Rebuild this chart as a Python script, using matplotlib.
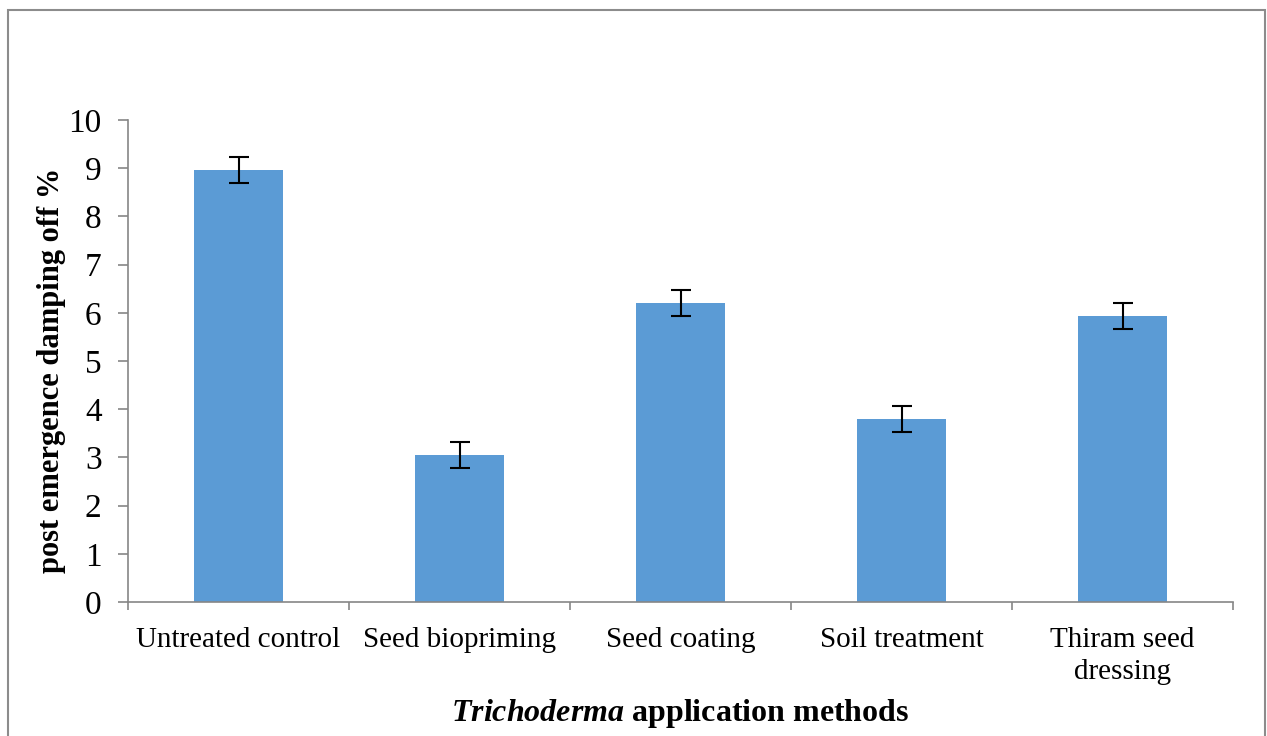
import matplotlib
matplotlib.use("Agg")
import matplotlib.pyplot as plt
from matplotlib.patches import Rectangle

categories = ["Untreated control", "Seed biopriming", "Seed coating", "Soil treatment", "Thiram seed\ndressing"]
values = [8.96, 3.05, 6.20, 3.79, 5.94]
errors = [0.27, 0.27, 0.27, 0.27, 0.27]
yticks = list(range(0, 11))

plt.rcParams['font.family'] = ['Liberation Serif', 'DejaVu Serif']
plt.rcParams['mathtext.fontset'] = 'custom'
plt.rcParams['mathtext.it'] = 'Liberation Serif:italic:bold'
plt.rcParams['mathtext.rm'] = 'Liberation Serif:bold'

W, H = 1267, 736
fig = plt.figure(figsize=(W / 100, H / 100), dpi=100)
ax = fig.add_axes([128 / W, 1 - 602 / H, (1233 - 128) / W, (602 - 120) / H])

x = list(range(len(categories)))
ax.bar(x, values, width=0.4, color="#5B9BD5", zorder=2)
ax.errorbar(x, values, yerr=errors, fmt="none", ecolor="black", elinewidth=1.5,
            capsize=7, capthick=1.5, zorder=3)

ax.set_xlim(-0.5, len(categories) - 0.5)
ax.set_ylim(0, 10)
ax.set_yticks(yticks)
ax.set_yticklabels([str(t) for t in yticks], fontsize=24)

ax.set_xticks(x)
ax.set_xticklabels(categories, fontsize=21, linespacing=1.3)
ax.tick_params(axis="x", length=0, pad=18)
ax.set_xticks([i - 0.5 for i in range(len(categories) + 1)], minor=True)
ax.tick_params(axis="x", which="minor", length=6, color="#868686", width=1.2)
ax.tick_params(axis="y", length=7, color="#868686", width=1.2, pad=12)

for s in ["top", "right"]:
    ax.spines[s].set_visible(False)
for s in ["left", "bottom"]:
    ax.spines[s].set_color("#868686")
    ax.spines[s].set_linewidth(1.2)

ax.set_ylabel("post emergence damping off %", fontsize=22, fontweight="bold", labelpad=2)
ax.yaxis.label.set_y(0.48)
fig.text((128 + 1233) / 2 / W, 1 - 714 / H,
         r"$\mathit{Trichoderma}$" + " application methods",
         ha="center", va="center", fontsize=23, fontweight="bold")

fig.patches.append(Rectangle((8 / W, -0.05), (1265 - 8) / W, 1.05 - 10 / H,
                             transform=fig.transFigure, fill=False,
                             edgecolor="#8c8c8c", linewidth=1.5))

fig.savefig("out.png", dpi=100)
